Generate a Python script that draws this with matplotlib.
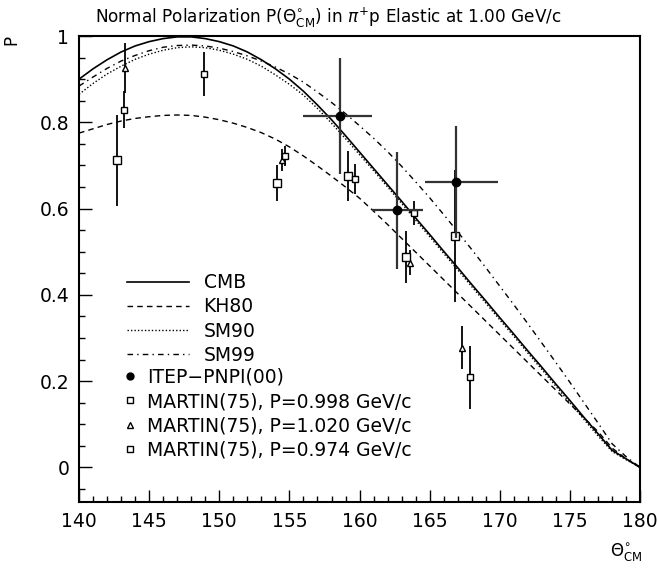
import matplotlib
matplotlib.use('Agg')
import matplotlib.pyplot as plt
from matplotlib.lines import Line2D
from matplotlib.ticker import MultipleLocator

plt.rcParams['font.family'] = ['DejaVu Sans']
plt.rcParams['mathtext.fontset'] = 'dejavusans'

# Angulos (grados CM) para las curvas de los analisis de ondas parciales
theta = list(range(140, 181))

cmb = [0.900, 0.924, 0.945, 0.963, 0.977, 0.987, 0.994, 0.998, 0.998, 0.994,
       0.987, 0.977, 0.963, 0.945, 0.924, 0.900, 0.872, 0.840, 0.806, 0.769,
       0.731, 0.693, 0.655, 0.617, 0.578, 0.540, 0.501, 0.463, 0.424, 0.386,
       0.347, 0.309, 0.270, 0.232, 0.193, 0.155, 0.116, 0.078, 0.040, 0.020,
       0.000]
kh80 = [0.775, 0.785, 0.795, 0.803, 0.809, 0.813, 0.816, 0.817, 0.816, 0.812,
        0.806, 0.798, 0.788, 0.776, 0.761, 0.743, 0.722, 0.699, 0.675, 0.650,
        0.624, 0.594, 0.563, 0.531, 0.499, 0.467, 0.435, 0.403, 0.371, 0.339,
        0.307, 0.275, 0.243, 0.211, 0.179, 0.147, 0.115, 0.083, 0.045, 0.020,
        0.000]
sm90 = [0.865, 0.890, 0.912, 0.930, 0.946, 0.958, 0.967, 0.973, 0.975, 0.973,
        0.967, 0.958, 0.946, 0.930, 0.910, 0.888, 0.863, 0.832, 0.798, 0.762,
        0.725, 0.688, 0.650, 0.612, 0.573, 0.535, 0.496, 0.458, 0.419, 0.381,
        0.342, 0.304, 0.265, 0.227, 0.188, 0.150, 0.111, 0.073, 0.037, 0.018,
        0.000]
sm99 = [0.884, 0.905, 0.925, 0.942, 0.955, 0.966, 0.974, 0.978, 0.979, 0.977,
        0.972, 0.964, 0.954, 0.942, 0.928, 0.912, 0.893, 0.870, 0.846, 0.820,
        0.792, 0.763, 0.732, 0.698, 0.662, 0.625, 0.586, 0.546, 0.505, 0.463,
        0.420, 0.377, 0.333, 0.288, 0.243, 0.197, 0.150, 0.103, 0.055, 0.025,
        0.000]

# ITEP-PNPI(00)
itep_x = [158.6, 162.7, 166.9]
itep_p = [0.815, 0.596, 0.662]
itep_dp = [0.135, 0.135, 0.130]
itep_dx_lo = [2.65, 1.78, 2.25]
itep_dx_hi = [2.28, 1.85, 2.95]

# MARTIN(75), P=0.998 GeV/c
m998_x = [142.7, 154.1, 159.2, 163.3, 166.8]
m998_p = [0.712, 0.660, 0.675, 0.488, 0.536]
m998_dp = [0.105, 0.042, 0.058, 0.060, 0.153]

# MARTIN(75), P=1.020 GeV/c
m1020_x = [143.3, 154.5, 163.6, 167.3]
m1020_p = [0.926, 0.712, 0.475, 0.278]
m1020_dp = [0.058, 0.025, 0.030, 0.050]

# MARTIN(75), P=0.974 GeV/c
m974_x = [143.2, 148.9, 154.7, 159.7, 163.9, 167.9]
m974_p = [0.829, 0.912, 0.722, 0.668, 0.589, 0.209]
m974_dp = [0.043, 0.052, 0.023, 0.035, 0.028, 0.073]

fig = plt.figure(figsize=(6.59, 5.70), dpi=100)
ax = fig.add_axes([0.1199, 0.1193, 0.8515, 0.8175])

l_cmb, = ax.plot(theta, cmb, color='black', lw=1.2, label='CMB')
l_kh, = ax.plot(theta, kh80, color='black', lw=1.0, ls=(0, (4, 3)), label='KH80')
l_sm90, = ax.plot(theta, sm90, color='black', lw=1.0, ls=(0, (1, 1.5)), label='SM90')
l_sm99, = ax.plot(theta, sm99, color='black', lw=1.0, ls=(0, (4, 3, 1, 3)), label='SM99')

ax.errorbar(m998_x, m998_p, yerr=m998_dp, fmt='s', ms=6, mfc='white', mec='black',
            mew=1.0, ecolor='black', elinewidth=1.3, capsize=0, zorder=3)
ax.errorbar(m1020_x, m1020_p, yerr=m1020_dp, fmt='^', ms=5, mfc='white', mec='black',
            mew=1.0, ecolor='black', elinewidth=1.3, capsize=0, zorder=3)
ax.errorbar(m974_x, m974_p, yerr=m974_dp, fmt='s', ms=4, mfc='white', mec='black',
            mew=1.0, ecolor='black', elinewidth=1.3, capsize=0, zorder=3)
ax.errorbar(itep_x, itep_p, yerr=itep_dp, xerr=[itep_dx_lo, itep_dx_hi], fmt='o',
            ms=6, mfc='black', mec='black', ecolor='#333333', elinewidth=1.6,
            capsize=0, zorder=4)

ax.set_xlim(140, 180)
ax.set_ylim(-0.08, 1.0)
ax.xaxis.set_major_locator(MultipleLocator(5))
ax.xaxis.set_minor_locator(MultipleLocator(1))
ax.yaxis.set_minor_locator(MultipleLocator(0.05))
ax.set_yticks([0, 0.2, 0.4, 0.6, 0.8, 1.0])
ax.set_yticklabels(['0', '0.2', '0.4', '0.6', '0.8', '1'])
ax.tick_params(which='both', direction='in', top=False, right=False,
               labelsize=13.5, width=1.0)
ax.tick_params(which='major', length=9, pad=7)
ax.tick_params(which='minor', length=4.5)
for s in ax.spines.values():
    s.set_linewidth(1.5)

fig.text(0.144, 0.968, r'Normal Polarization P($\Theta^{\circ}_{\rm CM}$) in $\pi^{+}$p Elastic at 1.00 GeV/c',
         fontsize=12.2, ha='left', va='center')
fig.text(0.018, 0.93, 'P', fontsize=12, rotation=90, ha='center', va='center')
fig.text(0.95, 0.032, r'$\Theta^{\circ}_{\rm CM}$', fontsize=12, ha='center', va='center')

leg1 = ax.legend(handles=[l_cmb, l_kh, l_sm90, l_sm99], loc='upper left',
                 bbox_to_anchor=(0.085, 0.491), frameon=False, fontsize=13.5,
                 handlelength=3.3, handletextpad=0.8, labelspacing=0.28,
                 borderpad=0, borderaxespad=0)
ax.add_artist(leg1)

h_itep = Line2D([], [], ls='none', marker='o', ms=5, mfc='black', mec='black')
h_998 = Line2D([], [], ls='none', marker='s', ms=5, mfc='white', mec='black')
h_1020 = Line2D([], [], ls='none', marker='^', ms=4, mfc='white', mec='black')
h_974 = Line2D([], [], ls='none', marker='s', ms=4, mfc='white', mec='black')
ax.legend(handles=[h_itep, h_998, h_1020, h_974],
          labels=['ITEP\u2212PNPI(00)', 'MARTIN(75), P=0.998 GeV/c',
                  'MARTIN(75), P=1.020 GeV/c', 'MARTIN(75), P=0.974 GeV/c'],
          loc='upper left', bbox_to_anchor=(0.081, 0.288), frameon=False,
          fontsize=13.5, handlelength=0.6, handletextpad=0.6, labelspacing=0.28,
          borderpad=0, borderaxespad=0)

fig.savefig('out.png', dpi=100)
